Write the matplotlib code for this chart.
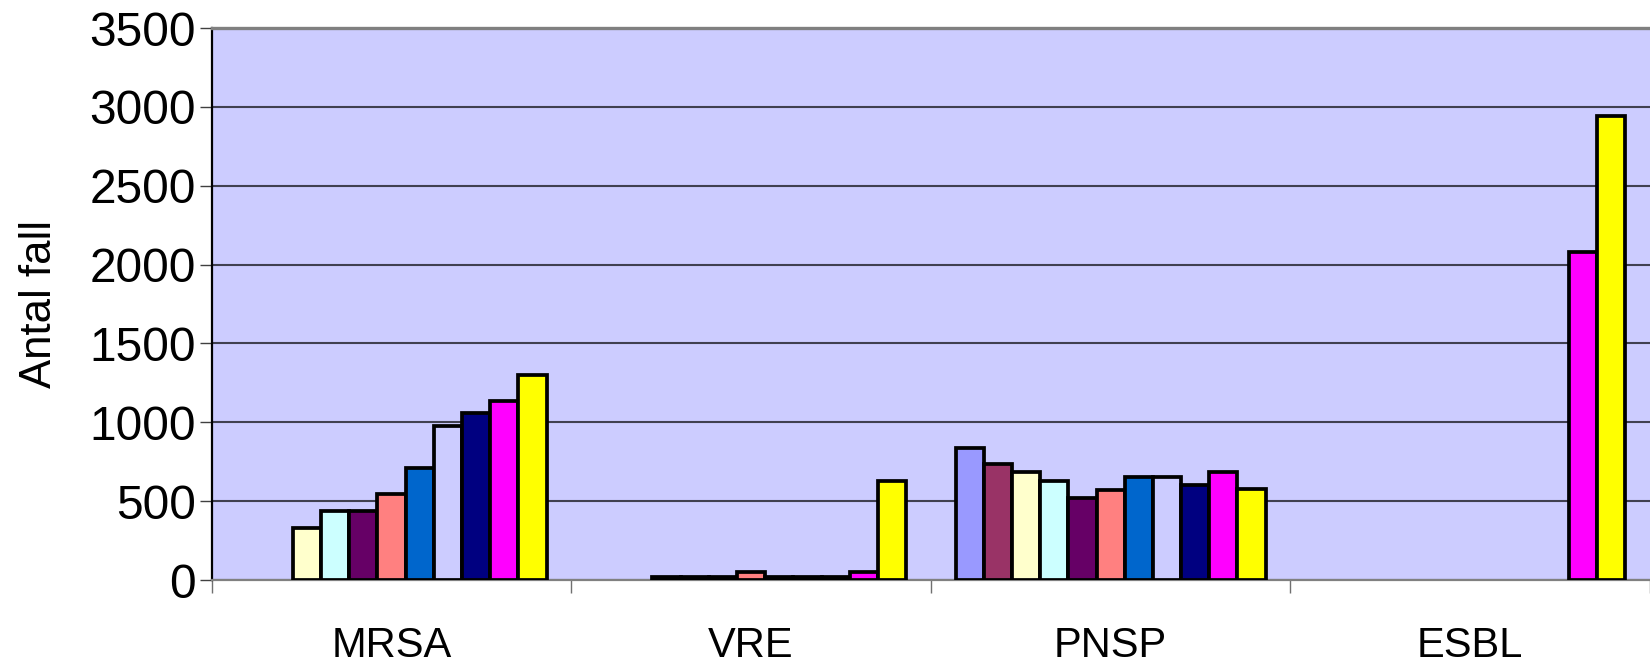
import numpy as np
import matplotlib
matplotlib.use("Agg")
import matplotlib.pyplot as plt

# ---- data ----
categories = ["MRSA", "VRE", "PNSP", "ESBL"]
series_colors = ["#9999FF", "#993366", "#FFFFCC", "#CCFFFF", "#660066", "#FF8080",
                 "#0066CC", "#CCCCFF", "#000080", "#FF00FF", "#FFFF00"]
# one value per series (11 series), None = no bar
mrsa = [None, None, 330, 435, 435, 545, 708, 977, 1057, 1135, 1298]
vre = [None, None, 22, 22, 22, 50, 22, 22, 22, 50, 630]
pnsp = [840, 735, 683, 630, 519, 573, 651, 651, 603, 683, 578]
esbl = [None, None, None, None, None, None, None, None, None, 2082, 2945]
y_ticks = [0, 500, 1000, 1500, 2000, 2500, 3000, 3500]
y_label = "Antal fall"

W, H = 1650, 664
fig = plt.figure(figsize=(W / 100, H / 100), dpi=100)
left_px, top_px, base_px = 211.7, 28.0, 580.0
cat_px = 361.0
ax = fig.add_axes([left_px / W, (H - base_px) / H, (W - left_px) / W, (base_px - top_px) / H])
ax.set_facecolor("#CCCCFF")

font = ["Liberation Sans", "DejaVu Sans"]

table = [mrsa, vre, pnsp, esbl]
n_series = len(series_colors)
bw = 28.3 / cat_px
x = np.arange(len(categories))
for i in range(n_series):
    vals = np.array([np.nan if row[i] is None else row[i] for row in table], dtype=float)
    mask = ~np.isnan(vals)
    ax.bar(x[mask] + (i - (n_series - 1) / 2) * bw, vals[mask], width=bw,
           color=series_colors[i], edgecolor="black", linewidth=2.7, zorder=3)

ax.set_xlim(-0.5, -0.5 + (W - left_px) / cat_px)
ax.set_ylim(0, 3500)
ax.set_yticks(y_ticks)
ax.set_yticklabels([str(v) for v in y_ticks], fontsize=34.5, family=font)
ax.yaxis.grid(True, color="#404050", linewidth=1.5, zorder=1)
ax.set_axisbelow(True)
ax.tick_params(axis="y", direction="out", length=8.6, width=1.0, color="#404040", pad=3)

# category boundaries as ticks
ax.set_xticks(np.arange(-0.5, len(categories) - 0.4, 1.0))
ax.set_xticklabels([])
ax.tick_params(axis="x", direction="out", length=9.4, width=1.0, color="#707070")
for xi, c in zip(x, categories):
    ax.text(xi, (base_px - 657) / (base_px - top_px), c, transform=ax.get_xaxis_transform(),
            ha="center", va="baseline", fontsize=30, family=font, clip_on=False)

ax.set_ylabel(y_label, fontsize=31.5, family=font)
ax.yaxis.set_label_coords(-(left_px - 60) / (W - left_px), 0.5)

ax.spines["right"].set_visible(False)
ax.spines["top"].set_color("#808080")
ax.spines["top"].set_linewidth(2.4)
ax.spines["left"].set_color("black")
ax.spines["left"].set_linewidth(1.6)
ax.spines["bottom"].set_color("#808080")
ax.spines["bottom"].set_linewidth(1.6)

fig.savefig("out.png", dpi=100)
